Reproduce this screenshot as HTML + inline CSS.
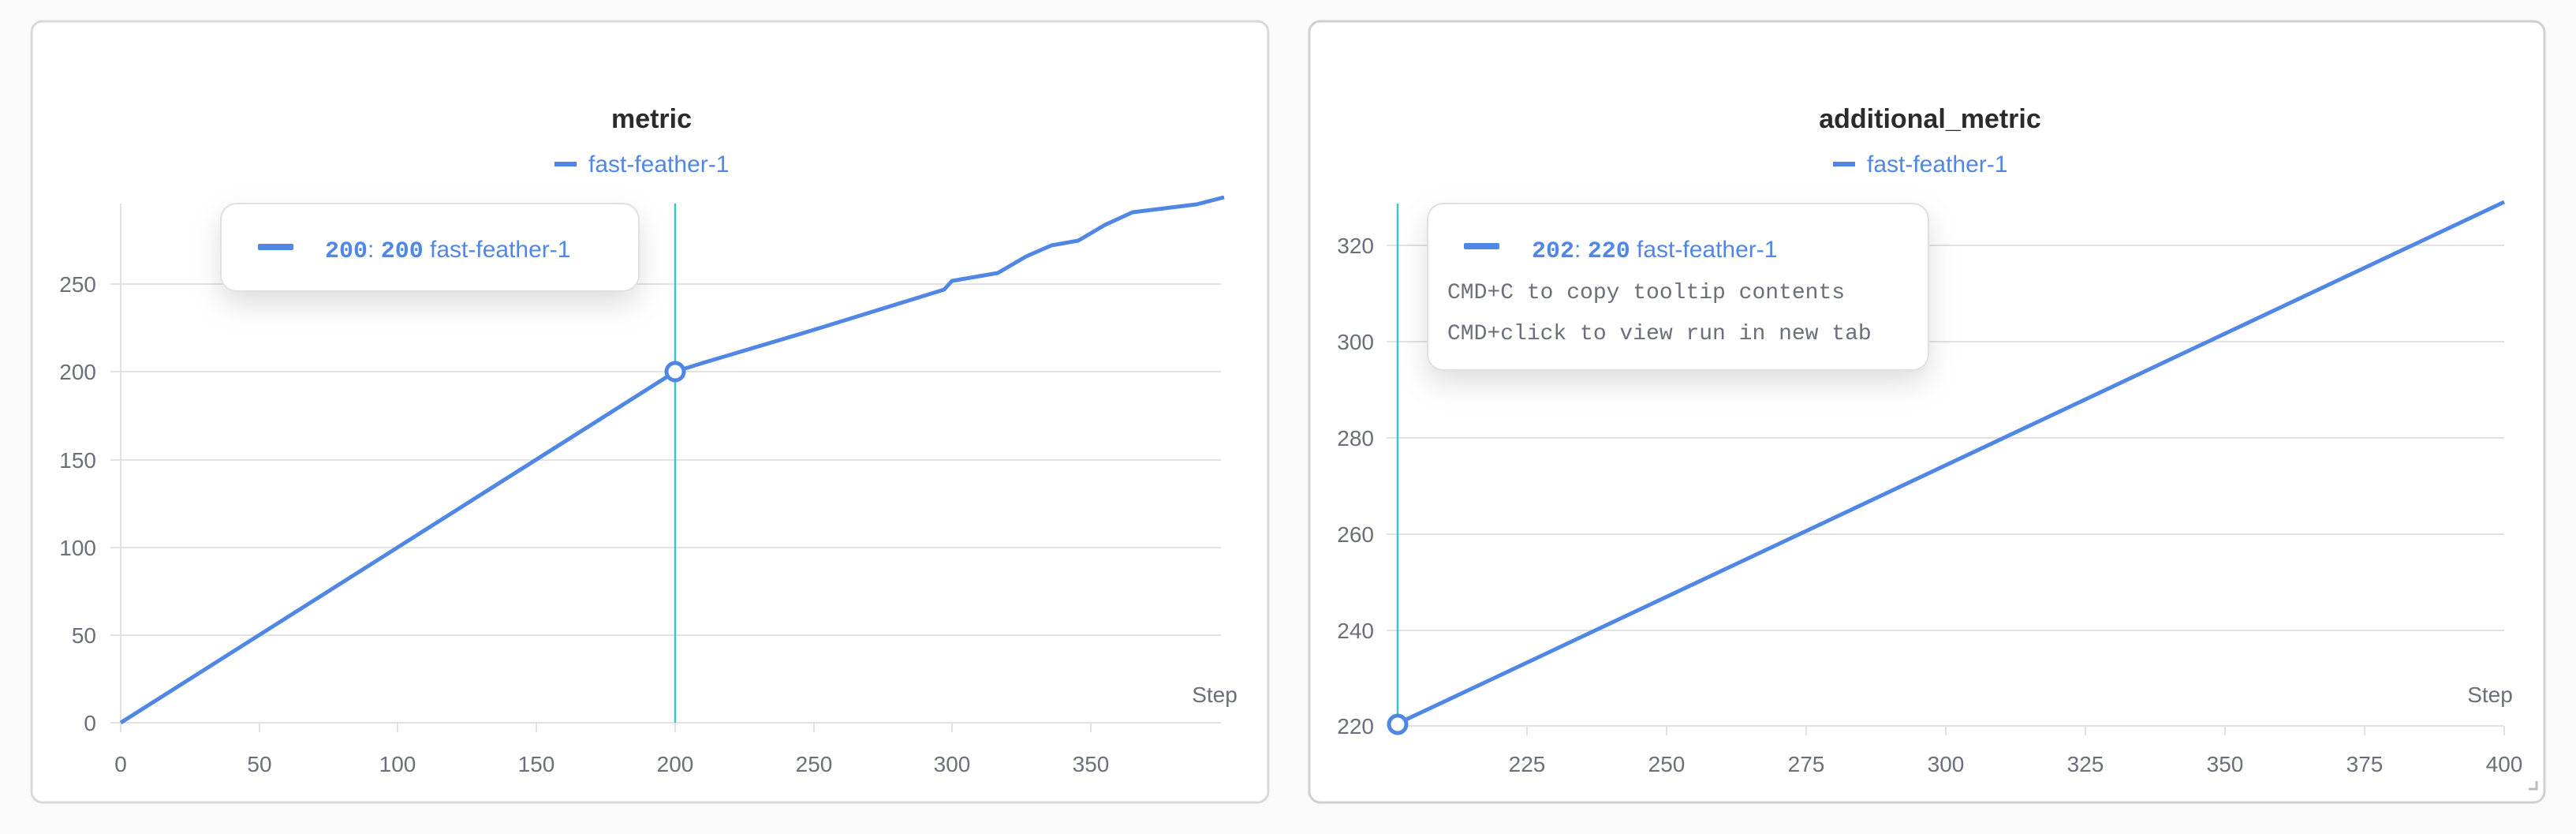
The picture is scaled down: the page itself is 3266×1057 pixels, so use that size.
<!DOCTYPE html>
<html><head><meta charset="utf-8"><style>
html,body{margin:0;padding:0;background:#fafafa;}
svg{display:block;font-family:"Liberation Sans",sans-serif;}
</style></head><body>
<svg width="3266" height="1057" viewBox="0 0 3266 1057" xmlns="http://www.w3.org/2000/svg">
<defs>
<filter id="sh" x="-30%" y="-30%" width="160%" height="200%"><feDropShadow dx="0" dy="16" stdDeviation="18" flood-color="#000" flood-opacity="0.13"/></filter>
</defs>
<rect x="0" y="0" width="3266" height="1057" fill="#fafafa"/>
<!-- Left card -->
<rect x="40" y="27" width="1568" height="990" rx="14" fill="#fff" stroke="#d9d9d9" stroke-width="3"/>
<text x="826" y="162" text-anchor="middle" font-size="34" font-weight="bold" fill="#2b2b2b">metric</text>
<rect x="703" y="205" width="28" height="6" fill="#5087e5"/>
<text x="746" y="218" font-size="30" fill="#5087e5">fast-feather-1</text>
<g stroke="#e2e2e2" stroke-width="2">
<line x1="140" y1="360" x2="1548" y2="360"/><line x1="140" y1="471" x2="1548" y2="471"/><line x1="140" y1="583" x2="1548" y2="583"/><line x1="140" y1="694" x2="1548" y2="694"/><line x1="140" y1="805" x2="1548" y2="805"/><line x1="140" y1="916" x2="1548" y2="916"/>
<line x1="153" y1="258" x2="153" y2="916"/>
<line x1="153" y1="916" x2="153" y2="928"/><line x1="329" y1="916" x2="329" y2="928"/><line x1="504" y1="916" x2="504" y2="928"/><line x1="680" y1="916" x2="680" y2="928"/><line x1="856" y1="916" x2="856" y2="928"/><line x1="1032" y1="916" x2="1032" y2="928"/><line x1="1207" y1="916" x2="1207" y2="928"/><line x1="1383" y1="916" x2="1383" y2="928"/>
</g>
<g font-size="28" fill="#6b6f7a" text-anchor="end">
<text x="122" y="370">250</text><text x="122" y="481">200</text><text x="122" y="593">150</text><text x="122" y="704">100</text><text x="122" y="815">50</text><text x="122" y="926">0</text>
</g>
<g font-size="28" fill="#6b6f7a" text-anchor="middle">
<text x="153" y="978">0</text><text x="329" y="978">50</text><text x="504" y="978">100</text><text x="680" y="978">150</text><text x="856" y="978">200</text><text x="1032" y="978">250</text><text x="1207" y="978">300</text><text x="1383" y="978">350</text>
<text x="1540" y="890">Step</text>
</g>
<line x1="856" y1="258" x2="856" y2="916" stroke="#3cc4c8" stroke-width="2.5"/>
<polyline fill="none" stroke="#5087e5" stroke-width="5" stroke-linejoin="round" points="153,916 856,471 891,460 1032,418 1197,367 1207,356 1265,346 1301,325 1333,311 1367,305 1401,285 1436,269 1517,259 1552,250"/>
<circle cx="856" cy="471" r="11" fill="#fff" stroke="#5087e5" stroke-width="5"/>
<rect x="280" y="258" width="530" height="111" rx="20" fill="#fff" stroke="#e0e0e0" stroke-width="2" filter="url(#sh)"/>
<rect x="327" y="309" width="45" height="8" rx="2" fill="#5087e5"/>
<text x="412" y="326" font-size="30" fill="#5087e5"><tspan font-weight="bold" font-family="Liberation Mono, monospace">200</tspan>: <tspan font-weight="bold" font-family="Liberation Mono, monospace">200</tspan> fast-feather-1</text>

<!-- Right card -->
<rect x="1660" y="27" width="1566" height="990" rx="14" fill="#fff" stroke="#d0d0d0" stroke-width="3"/>
<text x="2447" y="162" text-anchor="middle" font-size="34" font-weight="bold" fill="#2b2b2b">additional_metric</text>
<rect x="2324" y="205" width="28" height="6" fill="#5087e5"/>
<text x="2367" y="218" font-size="30" fill="#5087e5">fast-feather-1</text>
<g stroke="#e2e2e2" stroke-width="2">
<line x1="1758" y1="311" x2="3175" y2="311"/><line x1="1758" y1="433" x2="3175" y2="433"/><line x1="1758" y1="555" x2="3175" y2="555"/><line x1="1758" y1="677" x2="3175" y2="677"/><line x1="1758" y1="799" x2="3175" y2="799"/><line x1="1758" y1="920" x2="3175" y2="920"/>
<line x1="1936" y1="920" x2="1936" y2="932"/><line x1="2113" y1="920" x2="2113" y2="932"/><line x1="2290" y1="920" x2="2290" y2="932"/><line x1="2467" y1="920" x2="2467" y2="932"/><line x1="2644" y1="920" x2="2644" y2="932"/><line x1="2821" y1="920" x2="2821" y2="932"/><line x1="2998" y1="920" x2="2998" y2="932"/><line x1="3175" y1="920" x2="3175" y2="932"/>
</g>
<g font-size="28" fill="#6b6f7a" text-anchor="end">
<text x="1742" y="321">320</text><text x="1742" y="443">300</text><text x="1742" y="565">280</text><text x="1742" y="687">260</text><text x="1742" y="809">240</text><text x="1742" y="930">220</text>
</g>
<g font-size="28" fill="#6b6f7a" text-anchor="middle">
<text x="1936" y="978">225</text><text x="2113" y="978">250</text><text x="2290" y="978">275</text><text x="2467" y="978">300</text><text x="2644" y="978">325</text><text x="2821" y="978">350</text><text x="2998" y="978">375</text><text x="3175" y="978">400</text>
<text x="3157" y="890">Step</text>
</g>
<line x1="1772" y1="258" x2="1772" y2="920" stroke="#3cc4c8" stroke-width="2.5"/>
<line x1="1772" y1="917" x2="3175" y2="256" stroke="#5087e5" stroke-width="5"/>
<circle cx="1772" cy="918" r="11" fill="#fff" stroke="#5087e5" stroke-width="5"/>
<path d="M3206 1000 h10 v-10" fill="none" stroke="#bbb" stroke-width="3"/>
<rect x="1810" y="258" width="635" height="211" rx="20" fill="#fff" stroke="#e0e0e0" stroke-width="2" filter="url(#sh)"/>
<rect x="1856" y="308" width="45" height="8" rx="2" fill="#5087e5"/>
<text x="1942" y="326" font-size="30" fill="#5087e5"><tspan font-weight="bold" font-family="Liberation Mono, monospace">202</tspan>: <tspan font-weight="bold" font-family="Liberation Mono, monospace">220</tspan> fast-feather-1</text>
<text x="1835" y="378" font-size="28" font-family="Liberation Mono, monospace" fill="#6b6f7a">CMD+C to copy tooltip contents</text>
<text x="1835" y="430" font-size="28" font-family="Liberation Mono, monospace" fill="#6b6f7a">CMD+click to view run in new tab</text>
</svg>
</body></html>
